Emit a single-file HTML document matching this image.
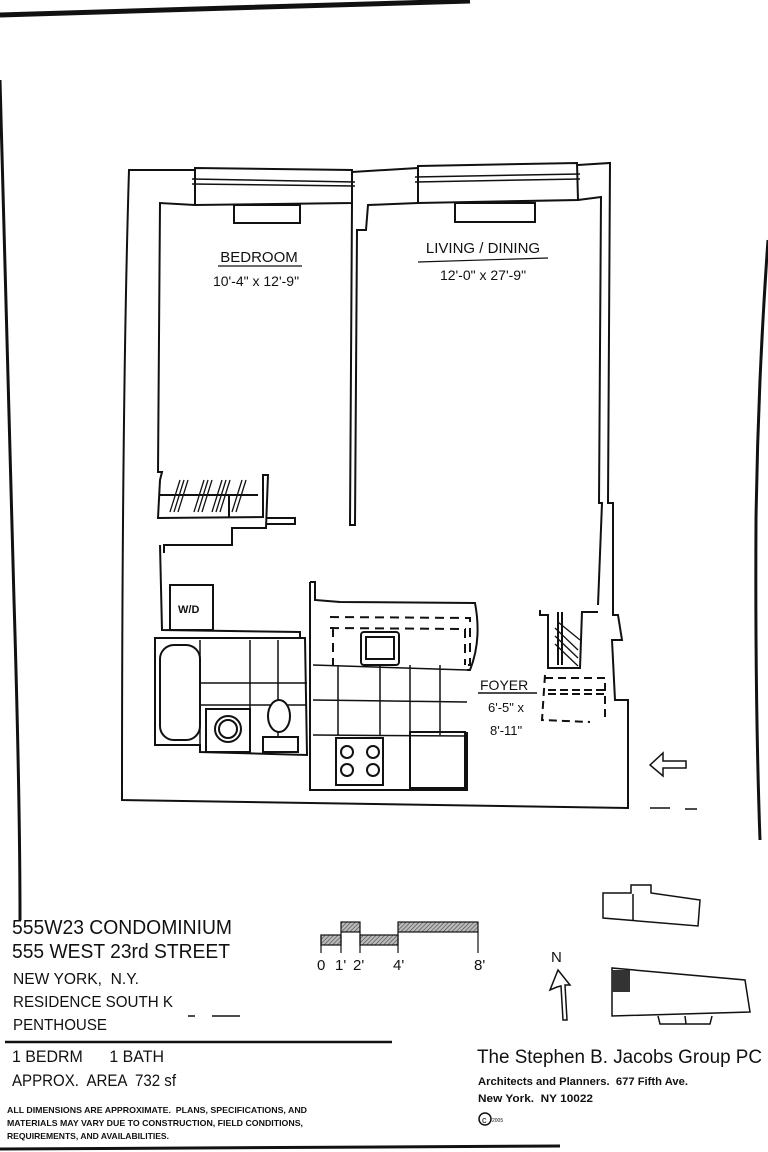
<!DOCTYPE html>
<html><head><meta charset="utf-8"><style>
html,body{margin:0;padding:0;background:#fff}
svg{display:block}
text{font-family:"Liberation Sans",sans-serif;fill:#111;white-space:pre}
</style></head><body>
<svg width="768" height="1152" viewBox="0 0 768 1152" xmlns="http://www.w3.org/2000/svg">
<defs>
<pattern id="h" width="3" height="3" patternUnits="userSpaceOnUse" patternTransform="rotate(45)"><rect width="3" height="3" fill="#bbb"/><line x1="0" y1="0" x2="0" y2="3" stroke="#444" stroke-width="1.2"/></pattern>
</defs>
<path d="M0 15 L230 8 L470 1" stroke="#111" stroke-width="5" fill="none"/>
<path d="M0 80 Q6 300 14 600 Q20 800 20 920" stroke="#111" stroke-width="3" fill="none"/>
<path d="M768 240 Q758 380 756 520 Q755 700 760 840" stroke="#111" stroke-width="3" fill="none"/>
<path d="M0 1149 L560 1146" stroke="#111" stroke-width="3" fill="none"/>

<g stroke="#111" stroke-width="2" fill="none">
<path d="M195 170 L129 170 Q122 400 122 800 L628 808 L628 700 L615 700 L612 640 L622 640 L618 615 L613 615 L613 503 L608 503 L610 163 L578 165"/>
<path d="M352 172 L418 168"/>
<path d="M195 168 L352 170 L352 203 L195 205 Z"/>
<path d="M418 166 L577 163 L578 200 L418 203 Z"/>
<path d="M192 179 L355 182 M192 184 L355 186 M415 177 L580 174 M415 182 L580 179" stroke-width="1.5"/>
<rect x="234" y="205" width="66" height="18"/>
<rect x="455" y="203" width="80" height="19"/>
<path d="M195 205 L160 203 L158 472 L162 472 L160 480 L158 518 L263 517 L263 475 L268 475 L266 528 L232 528 L232 545 L164 545 L164 553"/>
<path d="M160 495 L258 495 M229 495 L229 518"/>
<path d="M266 518 L295 518 L295 524 L266 524"/>
<g stroke-width="1.3"><path d="M170 512 L180 480 M174 512 L184 480 M178 512 L188 480 M194 512 L204 480 M198 512 L208 480 M202 512 L212 480 M212 512 L222 480 M216 512 L226 480 M220 512 L230 480 M232 512 L242 480 M236 512 L246 480"/></g>
<path d="M352 203 L350 525 L355 525 L357 230 L366 230 L368 205 L418 203"/>
<path d="M578 200 L601 197 L599 503 L602 503 L598 605"/>
<path d="M160 545 L162 630 L300 632 L300 637"/>
<rect x="170" y="585" width="43" height="45"/>
<path d="M155 638 L305 638 L307 755 L200 752 L200 745 L155 745 Z"/>
<rect x="160" y="645" width="40" height="95" rx="14"/>
<path d="M200 640 L200 745 M250 640 L250 752 M278 640 L278 752 M200 683 L307 683 M200 705 L307 705" stroke-width="1.5"/>
<rect x="206" y="709" width="44" height="43" fill="#fff"/>
<circle cx="228" cy="729" r="13"/><circle cx="228" cy="729" r="9"/>
<ellipse cx="279" cy="716" rx="11" ry="16" fill="#fff"/>
<rect x="263" y="737" width="35" height="15" fill="#fff"/>
<path d="M310 582 L310 790 L467 790 L467 732 M310 582 L315 582 L315 600 L340 602 L475 603 Q482 640 470 670 L467 670"/>
<path d="M330 617 L470 618 L470 665 L465 665 M330 628 L465 629 L465 665 M333 628 L333 665" stroke-dasharray="9 6"/>
<rect x="361" y="632" width="38" height="33" rx="3"/>
<rect x="366" y="637" width="28" height="22"/>
<path d="M313 665 L467 670 M313 700 L467 702 M313 735 L467 736 M338 665 L338 735 M380 665 L380 735 M410 665 L410 735 M440 665 L440 735" stroke-width="1.5"/>
<rect x="336" y="738" width="47" height="47"/>
<circle cx="347" cy="752" r="6"/><circle cx="373" cy="752" r="6"/><circle cx="347" cy="770" r="6"/><circle cx="373" cy="770" r="6"/>
<rect x="410" y="732" width="55" height="56"/>
<path d="M540 610 L540 615 L548 615 L548 668 L580 668 L582 612 L598 612 M558 612 L558 665 M562 612 L562 665"/>
<path d="M555 628 L578 650 M555 636 L578 658 M555 644 L578 666 M558 622 L580 640" stroke-width="1.3"/>
<path d="M545 675 L542 720 L590 722 M545 678 L605 678 L605 720" stroke-dasharray="8 5"/>
<path d="M548 690 L605 690 M548 694 L605 694" stroke-dasharray="8 4"/>
<path d="M478 693 L537 693" stroke-width="1.5"/>
<path d="M650 765 L663 753 L663 761 L686 761 L686 768 L663 768 L663 776 Z" stroke-width="1.5"/>
<path d="M650 808 L670 808 M685 809 L697 809" stroke-width="1.5"/>
</g>
<text x="259" y="262" font-size="15" text-anchor="middle">BEDROOM</text>
<line x1="218" y1="266" x2="302" y2="266" stroke="#111" stroke-width="1.2"/>
<text x="256" y="286" font-size="14" text-anchor="middle">10'-4" x 12'-9"</text>
<text x="483" y="253" font-size="15" text-anchor="middle">LIVING / DINING</text>
<line x1="418" y1="262" x2="548" y2="258" stroke="#111" stroke-width="1.2"/>
<text x="483" y="280" font-size="14" text-anchor="middle">12'-0" x 27'-9"</text>
<text x="178" y="613" font-size="11" font-weight="bold">W/D</text>
<text x="480" y="690" font-size="14">FOYER</text>
<text x="488" y="712" font-size="13">6'-5" x</text>
<text x="490" y="735" font-size="13">8'-11"</text>

<text x="12" y="934" font-size="20" textLength="220" lengthAdjust="spacingAndGlyphs">555W23 CONDOMINIUM</text>
<text x="12" y="958" font-size="20" textLength="218" lengthAdjust="spacingAndGlyphs">555 WEST 23rd STREET</text>
<text x="13" y="984" font-size="16" textLength="126" lengthAdjust="spacingAndGlyphs">NEW YORK,  N.Y.</text>
<text x="13" y="1007" font-size="16" textLength="160" lengthAdjust="spacingAndGlyphs">RESIDENCE SOUTH K</text>
<text x="13" y="1030" font-size="16" textLength="94" lengthAdjust="spacingAndGlyphs">PENTHOUSE</text>
<text x="12" y="1062" font-size="17" textLength="152" lengthAdjust="spacingAndGlyphs">1 BEDRM      1 BATH</text>
<text x="12" y="1086" font-size="17" textLength="164" lengthAdjust="spacingAndGlyphs">APPROX.  AREA  732 sf</text>
<line x1="5" y1="1042" x2="392" y2="1042" stroke="#111" stroke-width="2.5"/>
<path d="M188 1016 L195 1016 M212 1016 L240 1016" stroke="#111" stroke-width="1.5"/>
<g font-size="8.5" font-weight="bold">
<text x="7" y="1113" textLength="300" lengthAdjust="spacingAndGlyphs">ALL DIMENSIONS ARE APPROXIMATE.  PLANS, SPECIFICATIONS, AND</text>
<text x="7" y="1126" textLength="296" lengthAdjust="spacingAndGlyphs">MATERIALS MAY VARY DUE TO CONSTRUCTION, FIELD CONDITIONS,</text>
<text x="7" y="1139" textLength="162" lengthAdjust="spacingAndGlyphs">REQUIREMENTS, AND AVAILABILITIES.</text>
</g>
<g stroke="#111" stroke-width="1.2">
<rect x="321" y="935" width="20" height="10" fill="url(#h)"/>
<rect x="341" y="922" width="19" height="10" fill="url(#h)"/>
<rect x="360" y="935" width="38" height="10" fill="url(#h)"/>
<rect x="398" y="922" width="80" height="10" fill="url(#h)"/>
<path d="M321 935 L321 953 M341 932 L341 953 M360 932 L360 953 M398 932 L398 953 M478 932 L478 953"/>
</g>
<text x="317" y="970" font-size="15">0</text>
<text x="335" y="970" font-size="15">1'</text>
<text x="353" y="970" font-size="15">2'</text>
<text x="393" y="970" font-size="15">4'</text>
<text x="474" y="970" font-size="15">8'</text>
<text x="551" y="962" font-size="15">N</text>
<path d="M558 970 L570 985 L565 985 L567 1020 L563 1020 L561 986 L557 987 L550 990 Z" stroke="#111" stroke-width="1.5" fill="none"/>
<g stroke="#111" stroke-width="1.5" fill="none">
<path d="M603 893 L631 893 L631 885 L651 885 L651 893 L700 900 L698 926 L603 918 Z"/>
<path d="M633 894 L633 920"/>
<path d="M612 1016 L612 968 L745 980 L750 1012 Z"/>
<path d="M658 1016 L660 1024 L710 1024 L712 1016 M685 1016 L686 1024"/>
</g>
<rect x="612" y="970" width="18" height="22" fill="#333"/>
<text x="477" y="1063" font-size="19" textLength="285" lengthAdjust="spacingAndGlyphs">The Stephen B. Jacobs Group PC</text>
<text x="478" y="1085" font-size="11" font-weight="bold" textLength="210" lengthAdjust="spacingAndGlyphs">Architects and Planners.  677 Fifth Ave.</text>
<text x="478" y="1102" font-size="11" font-weight="bold" textLength="115" lengthAdjust="spacingAndGlyphs">New York.  NY 10022</text>
<circle cx="485" cy="1119" r="6" stroke="#111" stroke-width="1.5" fill="none"/>
<text x="482" y="1123" font-size="9">c</text>
<text x="492" y="1122" font-size="5">2005</text>
</svg>
</body></html>
